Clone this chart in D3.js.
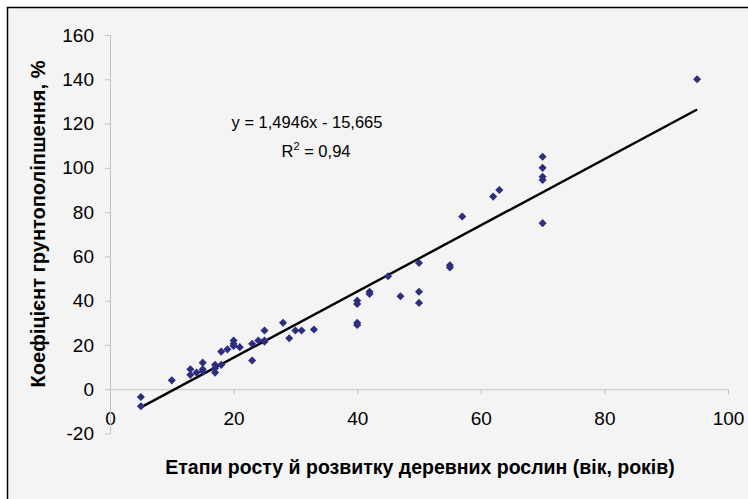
<!DOCTYPE html>
<html>
<head>
<meta charset="utf-8">
<script src="https://cdn.jsdelivr.net/npm/d3@7"></script>
<style>
  body { margin: 0; background: #ffffff; }
  svg { display: block; font-family: "Liberation Sans", Arial, sans-serif; }
</style>
</head>
<body>
<div id="chart"></div>
<script>
// ages (x) and soil improvement coefficient (y)
var ages = [5, 5, 10, 13, 13, 14, 15, 15, 15, 17, 17, 17, 18, 18, 19, 20, 20, 20, 21,
  23, 23, 24, 25, 25, 25, 28, 29, 30, 31, 33, 40, 40, 40, 40, 42, 42, 45, 47,
  50, 50, 50, 55, 55, 57, 62, 63, 70, 70, 70, 70, 70, 95];
var coefs = [-3.5, -7.7, 4, 9, 6.5, 7.5, 12, 9, 8, 11, 9.5, 7.5, 11, 17, 18, 22, 19.5, 20.5, 19,
  13, 20.5, 22, 26.5, 22, 21.5, 30, 23, 26.5, 26.5, 27, 40, 38.5, 30, 29, 44, 43, 51, 42,
  57, 44, 39, 56, 55, 78, 87, 90, 105, 100, 96, 94.5, 75, 140];
var xTicks = [0, 20, 40, 60, 80, 100];
var yTicks = [-20, 0, 20, 40, 60, 80, 100, 120, 140, 160];
var slope = 1.4946, intercept = -15.665;
var eqText = "y = 1,4946x - 15,665";
var r2Text = " = 0,94";
var xTitle = "Етапи росту й розвитку деревних рослин (вік, років)";
var yTitle = "Коефіцієнт грунтополіпшення, %";

var W = 748, H = 499;
var svg = d3.select("#chart").append("svg")
  .attr("width", W).attr("height", H);

svg.append("rect")
  .attr("x", 7.5).attr("y", 7.5)
  .attr("width", 800).attr("height", 600)
  .attr("fill", "#f4f4f4")
  .attr("stroke", "#000").attr("stroke-width", 1.5);

var x = d3.scaleLinear().domain([0, 100]).range([110, 728]);
var y = d3.scaleLinear().domain([-20, 160]).range([433.5, 35]);

var fmt = function(d) { return String(d); };
var xAxis = d3.axisBottom(x).tickValues(xTicks).tickFormat(fmt)
  .tickSize(5).tickSizeOuter(0).tickPadding(17);
var yAxis = d3.axisLeft(y).tickValues(yTicks).tickFormat(fmt)
  .tickSize(5).tickSizeOuter(0).tickPadding(11);

var gx = svg.append("g")
  .attr("transform", "translate(0," + y(0) + ")")
  .call(xAxis);
var gy = svg.append("g")
  .attr("transform", "translate(" + x(0) + ",0)")
  .call(yAxis);

[gx, gy].forEach(function(g) {
  g.selectAll("path, line").attr("stroke", "#c4c4c4").attr("stroke-width", 1);
  g.selectAll("text")
    .attr("fill", "#000")
    .style("font-size", "19px")
    .style("font-family", "'Liberation Sans', Arial, sans-serif");
});

// trend line over data range
var xMin = d3.min(ages), xMax = d3.max(ages);
svg.append("line")
  .attr("x1", x(xMin)).attr("y1", y(slope * xMin + intercept))
  .attr("x2", x(xMax)).attr("y2", y(slope * xMax + intercept))
  .attr("stroke", "#000").attr("stroke-width", 2.4);

var pts = ages.map(function(a, i) { return {a: a, c: coefs[i]}; });
svg.selectAll(".pt")
  .data(pts)
  .enter().append("path")
  .attr("class", "pt")
  .attr("d", d3.symbol().type(d3.symbolDiamond2).size(42))
  .attr("transform", function(d) { return "translate(" + x(d.a) + "," + y(d.c) + ")"; })
  .attr("fill", "#2e2e80");

// equation
svg.append("text")
  .attr("x", 307).attr("y", 128)
  .attr("text-anchor", "middle")
  .style("font-size", "16.5px")
  .text(eqText);
var r2 = svg.append("text")
  .attr("x", 316).attr("y", 157)
  .attr("text-anchor", "middle")
  .style("font-size", "16.5px");
r2.append("tspan").text("R");
r2.append("tspan").attr("dy", -7).style("font-size", "11px").text("2");
r2.append("tspan").attr("dy", 7).text(r2Text);

// axis titles
svg.append("text")
  .attr("x", 420).attr("y", 474)
  .attr("text-anchor", "middle")
  .style("font-size", "19.5px").style("font-weight", "bold")
  .text(xTitle);
svg.append("text")
  .attr("transform", "translate(45,224) rotate(-90)")
  .attr("text-anchor", "middle")
  .style("font-size", "20px").style("font-weight", "bold")
  .text(yTitle);
</script>
</body>
</html>
